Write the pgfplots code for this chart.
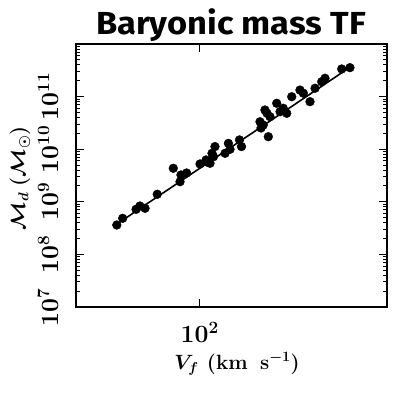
\documentclass[border=0pt]{standalone}
\usepackage{fontspec}
\newfontfamily\titlefont{Fira Sans}
\usepackage{pgfplots}
\pgfplotsset{compat=1.18}
\begin{document}
\begin{tikzpicture}[x=1bp,y=1bp]
\useasboundingbox (0,0) rectangle (395,396);
\node[font=\titlefont\bfseries\fontsize{32}{32}\selectfont] at (231,371) {\scalebox{1.08}[1]{Baryonic mass TF}};
\begin{axis}[
  at={(76bp,89bp)}, anchor=south west,
  width=311bp, height=263bp, scale only axis,
  xmode=log, ymode=log,
  xmin=40, xmax=400, ymin=1e7, ymax=1e12,
  axis line style={line width=1.6bp},
  tick style={black, line width=1bp},
  major tick length=8bp, minor tick length=4bp,
  xtick={100}, xticklabels={$10^{\scriptscriptstyle 2}$},
  ytick={1e7,1e8,1e9,1e10,1e11,1e12},
  yticklabels={$10^{\scriptscriptstyle 7}$,$10^{\scriptscriptstyle 8}$,$10^{\scriptscriptstyle 9}$,$10^{\scriptscriptstyle 10}$,$10^{\scriptscriptstyle 11}$,},
  ticklabel style={font=\fontsize{24.88}{25}\selectfont\boldmath, inner sep=0pt},
  yticklabel style={rotate=90, anchor=center, yshift=28bp},
  xticklabel style={anchor=center, yshift=-25bp},
  xlabel={$V_{f}$\hspace{0.4em}(km\hspace{0.6em}s$^{-1}$)},
  ylabel={$\mathcal{M}_d$\hspace{0.3em}($\mathcal{M}_\odot$)},
  label style={font=\fontsize{20.74}{21}\selectfont\bfseries\boldmath, inner sep=0pt},
  xlabel style={at={(axis description cs:0.518,0)}, anchor=center, yshift=-57bp},
  ylabel style={at={(axis description cs:0,0.49)}, anchor=center, yshift=56bp},
  clip=false,
]
\addplot[black, line width=1.6bp, no marks] coordinates {(53,3.47e8) (305,3.66e11)};
\addplot[only marks, mark=*, mark size=4.4bp, black] coordinates {
(54.1,3.62e8) (56.5,4.85e8) (62.4,7.19e8) (64.2,8.32e8) (66.7,7.52e8)
(73.0,1.39e9) (82.2,4.34e9) (86.4,2.41e9) (87.0,3.24e9) (90.7,3.53e9)
(100.2,5.24e9) (105.5,5.71e9) (107.9,5.40e9) (109.5,8.36e9) (110.7,7.19e9)
(111.9,1.12e10) (104.8,6.24e9) (120.6,8.36e9) (123.6,1.29e10) (125.1,9.95e9)
(134.2,1.50e10) (136.2,1.12e10) (156.2,3.33e10) (157.4,2.53e10) (160,2.88e10)
(162,5.56e10) (164.5,4.82e10) (166.1,1.73e10) (168.2,4.15e10) (176.8,7.46e10)
(181.2,5.16e10) (185.6,6.00e10) (190.4,4.82e10) (197.6,9.95e10) (210,1.33e11)
(215.3,1.16e11) (226.2,8.00e10) (234.8,1.44e11) (246.6,1.92e11) (252.8,2.23e11)
(286,3.35e11) (304,3.55e11)
};
\end{axis}
\end{tikzpicture}
\end{document}
